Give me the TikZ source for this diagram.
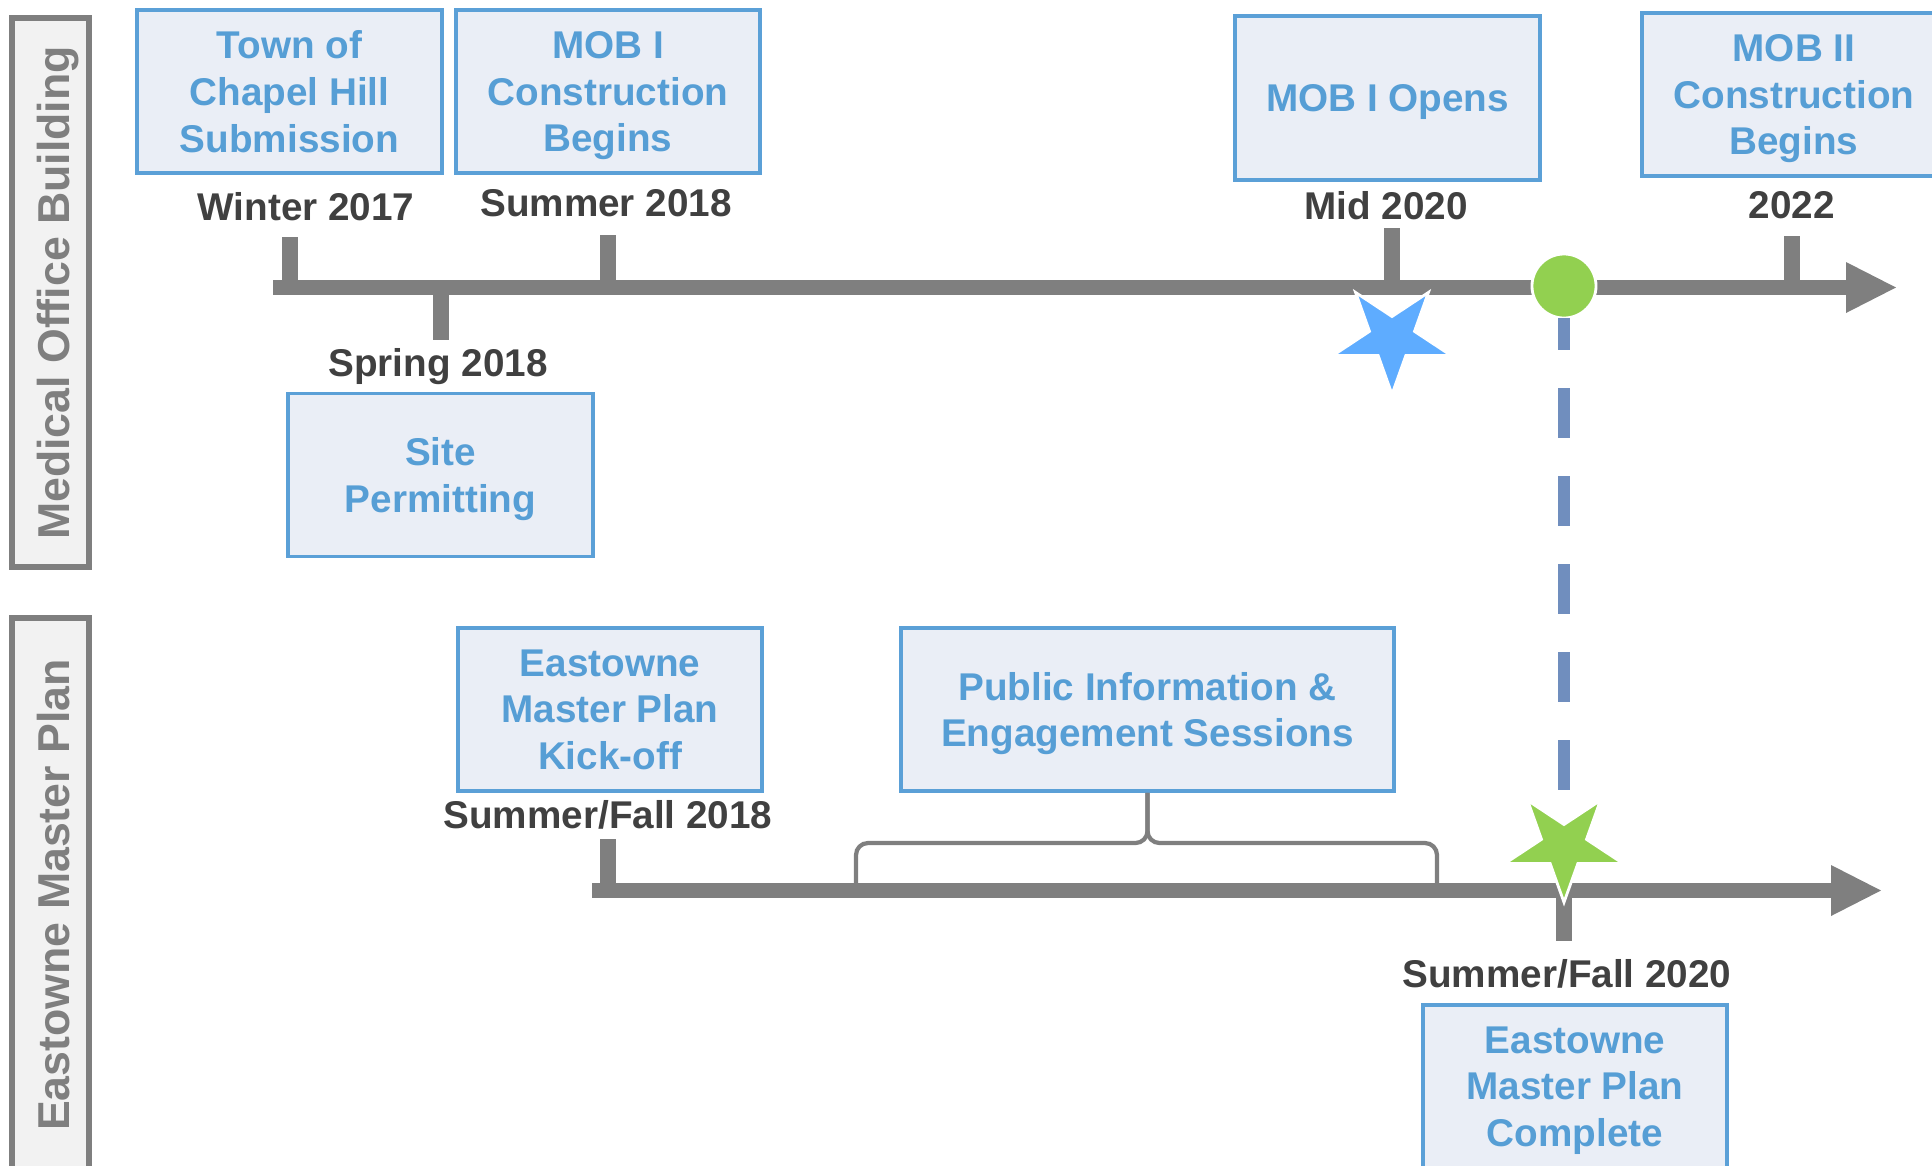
\documentclass[tikz,border=0pt]{standalone}
\usepackage{fontspec}
\setmainfont{Liberation Sans}
\usetikzlibrary{shapes.geometric}

\definecolor{axisgray}{RGB}{127,127,127}
\definecolor{boxfill}{RGB}{234,238,246}
\definecolor{boxline}{RGB}{91,160,215}
\definecolor{boxtext}{RGB}{86,158,213}
\definecolor{datetext}{RGB}{64,64,64}
\definecolor{lanefill}{RGB}{242,242,242}
\definecolor{stargreen}{RGB}{146,208,80}
\definecolor{starblue}{RGB}{94,172,255}
\definecolor{dashblue}{RGB}{112,142,190}

\begin{document}
\begin{tikzpicture}[x=0.01cm, y=-0.01cm,
  evento/.style={draw=boxline, line width=1.1pt, fill=boxfill, text=boxtext,
    font=\fontsize{11}{13.3}\selectfont\bfseries, align=center, text depth=0pt,
    minimum width=3.04cm, minimum height=1.63cm, inner sep=0pt},
  data/.style={anchor=base, text=datetext, font=\fontsize{11}{13.3}\selectfont\bfseries, inner sep=0pt},
  corsia/.style={anchor=base, rotate=90, text=axisgray, font=\fontsize{12.7}{15}\selectfont\bfseries, inner sep=0pt},
  asse/.style={axisgray, line width=4.5pt},
  tacca/.style={axisgray, line width=4.8pt},
  stella/.style={star, star points=5, star point ratio=0.382, draw=white, line width=0.8pt,
    minimum size=0.43cm, inner sep=0pt, outer sep=0pt, transform shape},
  graffa/.style={axisgray, line width=1.2pt, rounded corners=0.12cm}]

  \useasboundingbox (0,0) rectangle (1932,1166);

  % --- corsie a sinistra ---
  \draw[line width=1.5pt, draw=axisgray, fill=lanefill] (12,18) rectangle (89,567);
  \draw[line width=1.5pt, draw=axisgray, fill=lanefill] (12,618) rectangle (89,1180);
  \node[corsia] (mob) at (69,293) {Medical Office Building};
  \node[corsia] (emp) at (69,895) {Eastowne Master Plan};

  % --- asse superiore ---
  \draw[asse] (273,287.5) -- (1847,287.5);
  \fill[axisgray] (1846,262) -- (1896,287.5) -- (1846,313) -- cycle;
  \draw[tacca] (290,287.5) -- (290,237);
  \draw[tacca] (441,287.5) -- (441,340);
  \draw[tacca] (608,287.5) -- (608,235);
  \draw[tacca] (1392,287.5) -- (1392,228);
  \draw[tacca] (1792,287.5) -- (1792,236);

  % --- asse inferiore ---
  \draw[asse] (592,890.5) -- (1832,890.5);
  \fill[axisgray] (1831,865) -- (1881,890.5) -- (1831,916) -- cycle;
  \draw[tacca] (608,890.5) -- (608,839);
  \draw[tacca] (1564,890.5) -- (1564,941);

  % --- eventi ---
  \node[evento] (chapel) at (289.5,91.5) {Town of\\Chapel Hill\\Submission};
  \node[evento] (mobuno) at (608,91.5) {MOB I\\Construction\\Begins};
  \node[evento] (permessi) at (440.5,475) {Site\\Permitting};
  \node[evento, minimum height=1.64cm] (apertura) at (1387.5,98) {MOB I Opens};
  \node[evento] (mobdue) at (1794,94.5) {MOB II\\Construction\\Begins};
  \node[evento] (kickoff) at (610,709.5) {Eastowne\\Master Plan\\Kick-off};
  \node[evento, minimum width=4.93cm] (sessioni) at (1147.5,709.5) {Public Information \&\\Engagement Sessions};
  \node[evento] (completo) at (1575,1086.5) {Eastowne\\Master Plan\\Complete};

  % --- date ---
  \node[data] (inverno17) at (306,220) {Winter 2017};
  \node[data] (estate18) at (606,216) {Summer 2018};
  \node[data] (primavera18) at (438,376) {Spring 2018};
  \node[data] (meta20) at (1386,219) {Mid 2020};
  \node[data] (anno22) at (1792,218) {2022};
  \node[data] (estautunno18) at (608,828) {Summer/Fall 2018};
  \node[data] (estautunno20) at (1567,987) {Summer/Fall 2020};

  % --- graffa sotto le sessioni ---
  \draw[graffa] (856,890.5) |- (1147.5,843) -- (sessioni.south);
  \draw[graffa] (1437,890.5) |- (1147.5,843) -- (sessioni.south);

  % --- oggi, stelle e tratteggio ---
  \node[circle, fill=stargreen, draw=white, line width=0.8pt, minimum size=0.64cm,
    inner sep=0pt, outer sep=0pt] (oggi) at (1564,286) {};
  \begin{scope}[shift={(1392,338)}, xscale=1.1]
    \node[stella, fill=starblue] (stellamob) at (0,0) {};
  \end{scope}
  \begin{scope}[shift={(1564,846)}, xscale=1.1]
    \node[stella, fill=stargreen] (stellaemp) at (0,0) {};
  \end{scope}
  \draw[dashblue, line width=3.4pt, dash pattern=on 0.5cm off 0.38cm, dash phase=0.18cm]
    (oggi.south) -- (stellaemp.outer point 1);

\end{tikzpicture}
\end{document}
